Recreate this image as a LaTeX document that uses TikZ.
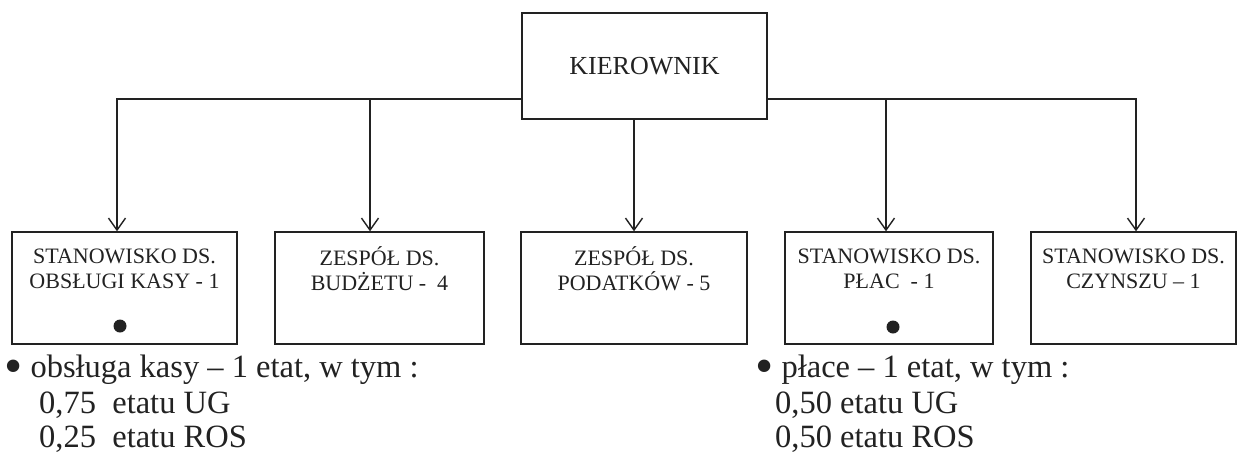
\documentclass[tikz,border=0pt]{standalone}
\usepackage{fontspec}
\setmainfont{Liberation Serif}
\usetikzlibrary{arrows.meta,calc}
\definecolor{ink}{HTML}{222222}
\newcommand{\bigbul}{\raisebox{-6pt}{\scalebox{1.6}{\textbullet}}}
\begin{document}
\begin{tikzpicture}[x=1pt,y=-1pt,
  every node/.style={text=ink},
  unit/.style={draw=ink,line width=1.4pt,rectangle,minimum height=112pt,inner sep=0pt,
    align=center,font=\fontsize{22}{25}\selectfont},
  boss/.style={draw=ink,line width=1.4pt,rectangle,minimum width=245pt,minimum height=106pt,
    inner sep=0pt,font=\fontsize{26}{30}\selectfont},
  conn/.style={draw=ink,line width=1.4pt,-{Straight Barb[length=12pt,width=17pt,line width=1.4pt]}},
  dotn/.style={circle,fill=ink,draw=none,minimum size=13pt,inner sep=0pt},
  note/.style={anchor=base west,inner sep=0pt,font=\fontsize{32.5}{35}\selectfont}]
\useasboundingbox (0,0) rectangle (1238,455);
\fill[white] (0,0) rectangle (1238,455);

\node[boss] (k) at (644.5,66) {KIEROWNIK};

\node[unit,minimum width=225pt] (b1) at (124.5,288) {STANOWISKO DS.\\OBSŁUGI KASY - 1\\[14pt]};
\node[unit,minimum width=209pt] (b2) at (379.5,288) {ZESPÓŁ DS.\\BUDŻETU -\ \ 4\\[14pt]};
\node[unit,minimum width=226pt] (b3) at (634,288) {ZESPÓŁ DS.\\PODATKÓW - 5\\[14pt]};
\node[unit,minimum width=208pt] (b4) at (889,288) {STANOWISKO DS.\\PŁAC\ \ - 1\\[14pt]};
\node[unit,minimum width=205pt] (b5) at (1133.5,288) {STANOWISKO DS.\\CZYNSZU – 1\\[14pt]};

\node[dotn] (d1) at (120,326) {};
\node[dotn] (d4) at (893,327) {};

\coordinate (j1) at (117,99);
\coordinate (j2) at (370,99);
\coordinate (j4) at (886,99);
\coordinate (j5) at (1136,99);

\draw[conn] (k.west |- j1) -| (j1 |- b1.north);
\draw[conn] (j2) -- (j2 |- b2.north);
\draw[conn] (k.south -| b3.north) -- (b3.north);
\draw[conn] (k.east |- j5) -| (j5 |- b5.north);
\draw[conn] (j4) -- (j4 |- b4.north);

\node[note] (n1) at (4,377) {\bigbul\ obsługa kasy – 1 etat, w tym :};
\node[note] (n2) at (39,413) {0,75\ \ etatu UG};
\node[note] (n3) at (39,447) {0,25\ \ etatu ROS};

\node[note] (m1) at (755,377) {\bigbul\ płace – 1 etat, w tym :};
\node[note] (m2) at (775,413) {0,50 etatu UG};
\node[note] (m3) at (775,447) {0,50 etatu ROS};
\end{tikzpicture}
\end{document}
